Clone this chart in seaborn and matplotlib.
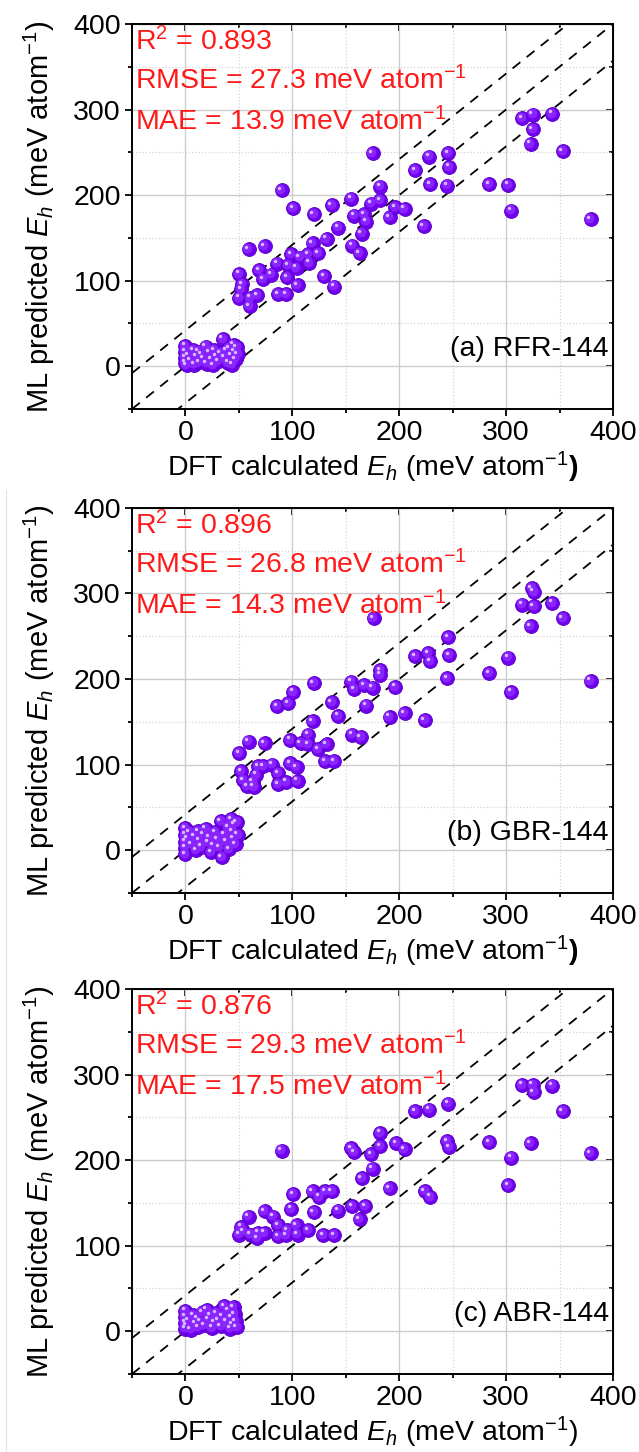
import pandas as pd
import matplotlib
matplotlib.use('Agg')
import matplotlib.pyplot as plt
import matplotlib.transforms as mtransforms
from matplotlib.ticker import MultipleLocator
from matplotlib.lines import Line2D
import seaborn as sns

# DFT calculated vs ML predicted hull energies (meV/atom)
rfr_dft = [0, 0, 0, 0, 1, 3, 5, 7, 8, 10, 12, 13, 15, 17, 19, 20, 22, 24, 26, 27,
           29, 31, 33, 35, 36, 38, 40, 41, 43, 44, 45, 46, 47, 48, 49,
           50, 53, 52, 50, 61, 67, 60, 59, 74, 69, 73, 80, 86, 87, 94, 95, 96, 99,
           104, 105, 107, 115, 116, 119, 124, 130, 132, 137, 139, 143, 155, 156,
           158, 163, 165, 167, 169, 174, 175, 182, 182, 90, 101, 120, 191, 196, 205,
           215, 223, 228, 229, 245, 246, 247, 284, 302, 305, 315, 325, 325, 323,
           343, 353, 379]
rfr_ml = [24, 17, 10, 4, 1, 13, 7, 19, 2, 11, 17, 5, 14, 9, 23, 3, 16, 8, 1, 19,
          11, 6, 15, 32, 10, 18, 4, 21, 13, 2, 25, 17, 8, 22, 14,
          108, 96, 90, 80, 80, 83, 70, 137, 140, 112, 102, 107, 120, 84, 84, 104, 118, 131,
          115, 95, 127, 131, 121, 144, 132, 105, 149, 188, 93, 162, 196, 141,
          176, 132, 155, 178, 169, 190, 249, 210, 194, 206, 185, 178, 174, 186, 184,
          229, 164, 245, 213, 211, 249, 233, 213, 212, 182, 290, 294, 277, 260,
          295, 251, 172]

gbr_dft = [0, 0, 0, 0, 0, 2, 4, 6, 8, 10, 12, 13, 15, 17, 19, 21, 22, 24, 26, 28,
           30, 32, 33, 34, 36, 38, 40, 41, 43, 44, 45, 46, 47, 48, 49,
           50, 52, 54, 58, 63, 64, 66, 59, 74, 68, 73, 81, 87, 87, 94, 86, 96, 101,
           98, 104, 105, 98, 108, 115, 115, 119, 120, 124, 132, 131, 139, 137, 143,
           155, 158, 156, 164, 167, 169, 175, 176, 182, 182, 191, 196, 205, 215,
           224, 227, 229, 246, 247, 245, 284, 302, 305, 315, 324, 326, 326, 323,
           343, 353, 379]
gbr_ml = [26, 18, 10, 3, -5, 14, 21, 7, 16, 0, 22, 11, 4, 19, 25, 9, 15, -2, 6, 21,
          13, 3, 34, -8, 18, 10, 27, 1, 36, 22, 14, 30, 7, 33, 18,
          113, 92, 82, 75, 80, 74, 88, 127, 125, 98, 98, 100, 90, 77, 80, 168, 172, 185,
          102, 97, 81, 129, 125, 135, 124, 151, 195, 118, 124, 104, 104, 173, 157,
          197, 188, 135, 132, 193, 169, 190, 271, 210, 205, 156, 191, 160, 227,
          152, 230, 221, 249, 228, 201, 207, 225, 185, 287, 306, 302, 285, 262,
          289, 271, 198]

abr_dft = [0, 0, 0, 0, 1, 3, 5, 7, 9, 11, 12, 14, 16, 18, 20, 21, 23, 25, 27, 29,
           31, 33, 35, 36, 38, 40, 42, 43, 44, 45, 46, 47, 48,
           50, 54, 52, 61, 68, 67, 59, 74, 74, 82, 87, 87, 94, 95, 90, 99, 101,
           104, 105, 115, 119, 120, 125, 129, 131, 137, 139, 143, 155, 156, 158,
           163, 165, 168, 174, 175, 182, 182, 191, 197, 205, 215, 224, 228, 229,
           246, 245, 247, 284, 302, 305, 315, 325, 326, 323, 343, 353, 379]
abr_ml = [24, 17, 10, 3, 7, 13, 2, 19, 9, 15, 5, 11, 22, 7, 25, 14, 18, 4, 10, 21,
          13, 6, 17, 29, 11, 24, 3, 16, 8, 28, 20, 12, 5,
          113, 117, 122, 113, 115, 109, 134, 140, 115, 134, 124, 111, 112, 118, 211, 143, 160,
          124, 113, 118, 164, 139, 157, 112, 164, 164, 112, 141, 214, 146, 209,
          131, 179, 146, 207, 190, 232, 216, 167, 220, 213, 257, 164, 259, 157,
          266, 222, 215, 221, 171, 203, 288, 288, 279, 220, 287, 257, 208]

r2_values = ['0.893', '0.896', '0.876']
rmse_values = ['27.3', '26.8', '29.3']
mae_values = ['13.9', '14.3', '17.5']
panel_labels = ['(a) RFR-144', '(b) GBR-144', '(c) ABR-144']

panels = [(rfr_dft, rfr_ml), (gbr_dft, gbr_ml), (abr_dft, abr_ml)]

sns.set_style('white')
plt.rcParams['font.family'] = ['Liberation Sans', 'DejaVu Sans']
plt.rcParams['mathtext.fontset'] = 'custom'
plt.rcParams['mathtext.rm'] = 'Liberation Sans'
plt.rcParams['mathtext.it'] = 'Liberation Sans:italic'
plt.rcParams['mathtext.bf'] = 'Liberation Sans:bold'
plt.rcParams['text.color'] = 'black'
plt.rcParams['axes.labelcolor'] = 'black'
plt.rcParams['xtick.color'] = 'black'
plt.rcParams['ytick.color'] = 'black'

fs = 20.5
fig = plt.figure(figsize=(6.39, 14.52), dpi=100)
bottoms = [0.7183, 0.3850, 0.0537]

for i, (dft, ml) in enumerate(panels):
    ax = fig.add_axes([0.2066, bottoms[i], 0.7527, 0.2652])
    df = pd.DataFrame({'dft': dft, 'ml': ml})

    # parity line and the +/- band
    lims = [-50, 400]
    dash = (0, (5.5, 4.5))
    ax.plot(lims, lims, ls=dash, color='black', lw=1.3, zorder=2)
    ax.plot(lims, [v + 42 for v in lims], ls=dash, color='black', lw=1.3, zorder=2)
    ax.plot(lims, [v - 43 for v in lims], ls=dash, color='black', lw=1.3, zorder=2)

    # shaded "ball" markers: base + lighter layers shifted up-left
    sns.scatterplot(data=df, x='dft', y='ml', ax=ax, s=100, color='#7000ee',
                    edgecolor='#5800c4', linewidth=0.6, zorder=3)
    mid = mtransforms.offset_copy(ax.transData, fig=fig, x=-1.2, y=1.2, units='dots')
    ax.scatter(df['dft'], df['ml'], s=50, color='#8a24ff', linewidth=0, transform=mid, zorder=4)
    hi = mtransforms.offset_copy(ax.transData, fig=fig, x=-2.4, y=2.4, units='dots')
    ax.scatter(df['dft'], df['ml'], s=6, color='#d6bcff', linewidth=0, transform=hi, zorder=5)

    ax.set_xlim(lims)
    ax.set_ylim(lims)
    for axis in [ax.xaxis, ax.yaxis]:
        axis.set_major_locator(MultipleLocator(100))
        axis.set_minor_locator(MultipleLocator(50))
    ax.grid(which='major', color='#cccccc', lw=1.0, zorder=0)
    ax.grid(which='minor', color='#d5d5d5', lw=0.9, ls=':', zorder=0)
    ax.set_axisbelow(True)

    ax.tick_params(which='both', direction='out', bottom=True, left=True,
                   labelsize=fs, width=1.3, color='black', labelcolor='black')
    ax.tick_params(which='major', length=5, pad=3)
    ax.tick_params(which='minor', length=3)
    for sp in ax.spines.values():
        sp.set_linewidth(1.4)
        sp.set_color('black')

    # inward ticks on the top and right spines
    top = ax.secondary_xaxis('top')
    top.xaxis.set_major_locator(MultipleLocator(100))
    top.xaxis.set_minor_locator(MultipleLocator(50))
    top.tick_params(which='both', direction='in', labeltop=False, width=1.3)
    top.tick_params(which='major', length=5)
    top.tick_params(which='minor', length=3)
    right = ax.secondary_yaxis('right')
    right.yaxis.set_major_locator(MultipleLocator(100))
    right.yaxis.set_minor_locator(MultipleLocator(50))
    right.tick_params(which='both', direction='in', labelright=False, width=1.3)
    right.tick_params(which='major', length=5)
    right.tick_params(which='minor', length=3)

    if i < 2:
        ax.set_xlabel(r'DFT calculated $E_h$ (meV atom$^{-1}$$\mathbf{)}$', fontsize=fs)
    else:
        ax.set_xlabel(r'DFT calculated $E_h$ (meV atom$^{-1}$)', fontsize=fs)
    ax.set_ylabel(r'ML predicted $E_h$ (meV atom$^{-1}$)', fontsize=fs + 0.5)
    ax.xaxis.set_label_coords(0.5, -0.105)
    ax.yaxis.set_label_coords(-0.155, 0.5)

    red = '#ff1a1a'
    ax.text(0.006, 0.932, r'R$^2$ = ' + r2_values[i], transform=ax.transAxes,
            fontsize=fs, color=red, va='baseline', ha='left')
    ax.text(0.006, 0.831, r'RMSE = ' + rmse_values[i] + r' meV atom$^{-1}$',
            transform=ax.transAxes, fontsize=fs, color=red, va='baseline', ha='left')
    ax.text(0.006, 0.725, r'MAE = ' + mae_values[i] + r' meV atom$^{-1}$',
            transform=ax.transAxes, fontsize=fs, color=red, va='baseline', ha='left')
    ax.text(0.991, 0.138, panel_labels[i], transform=ax.transAxes,
            fontsize=fs, color='black', va='baseline', ha='right')

# faint border left over from the stacked screenshots
fig.add_artist(Line2D([6 / 639, 6 / 639], [0, 1 - 490 / 1452], color='#e4e4e4', lw=0.8))

plt.savefig('out.png', dpi=100)
plt.close()
